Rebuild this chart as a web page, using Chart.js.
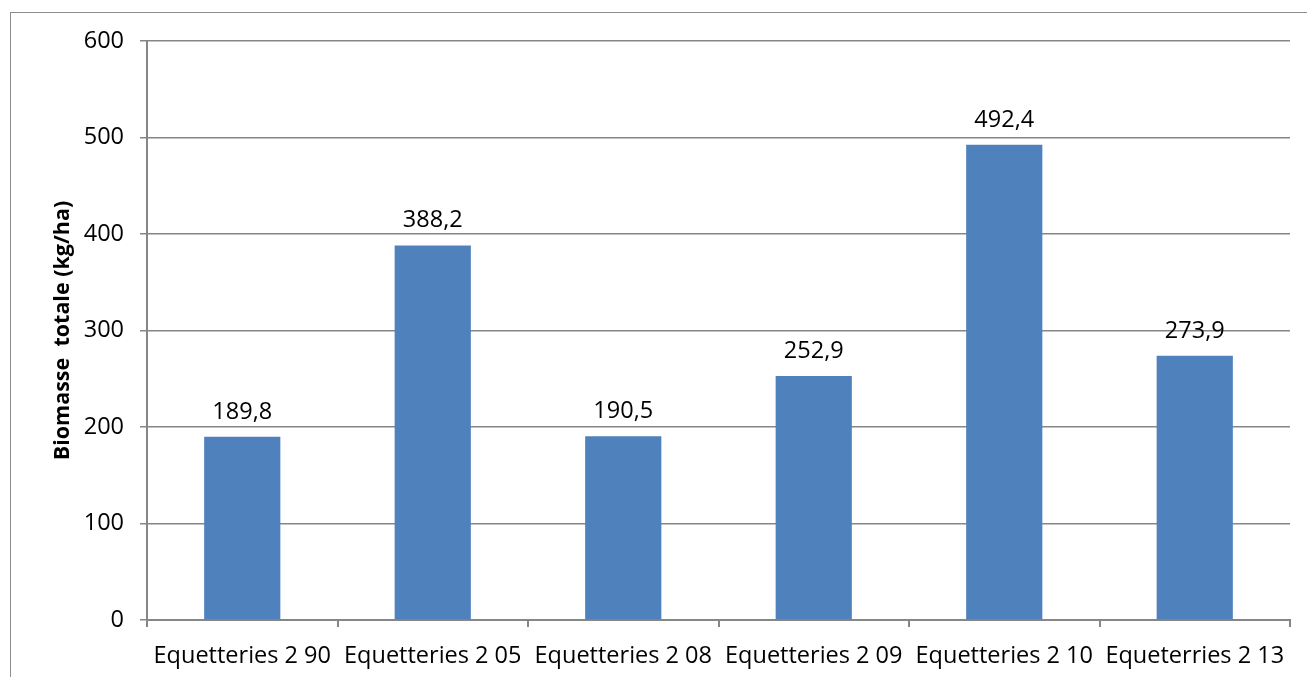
<!DOCTYPE html>
<html>
<head>
<meta charset="utf-8">
<script src="https://cdn.jsdelivr.net/npm/chart.js@4.4.1/dist/chart.umd.min.js"></script>
<style>
  html, body { margin: 0; padding: 0; background: #fff; overflow: hidden; }
  #wrap { position: relative; width: 1307px; height: 677px; }
  #frame { position: absolute; left: 10px; top: 12px; width: 1400px; height: 800px;
           border: 1px solid #8c8c8c; box-sizing: border-box; }
  canvas { position: absolute; left: 0; top: 0; }
</style>
</head>
<body>
<div id="wrap">
  <div id="frame"></div>
  <canvas id="c" width="1307" height="677"></canvas>
</div>
<script>
const categories = ["Equetteries 2 90", "Equetteries 2 05", "Equetteries 2 08",
                    "Equetteries 2 09", "Equetteries 2 10", "Equeterries 2 13"];
const biomasse = [189.8, 388.2, 190.5, 252.9, 492.4, 273.9];
const yTicks = [0, 100, 200, 300, 400, 500, 600];

const FONT = "'Open Sans', 'Liberation Sans', sans-serif";
const SIZE = 23.5;
const GRID = "#868686";

// value labels above each bar, French decimal comma
const valueLabels = {
  id: "valueLabels",
  afterDatasetsDraw(chart) {
    const ctx = chart.ctx;
    const meta = chart.getDatasetMeta(0);
    ctx.save();
    ctx.font = SIZE + "px " + FONT;
    ctx.fillStyle = "#000";
    ctx.textAlign = "center";
    ctx.textBaseline = "alphabetic";
    meta.data.forEach((bar, i) => {
      const txt = biomasse[i].toFixed(1).replace(".", ",");
      ctx.fillText(txt, bar.x, bar.y - 18);
    });
    ctx.restore();
  }
};

new Chart(document.getElementById("c"), {
  type: "bar",
  data: {
    labels: categories,
    datasets: [{
      data: biomasse,
      backgroundColor: "#4F81BD",
      borderWidth: 0,
      barPercentage: 0.4,
      categoryPercentage: 1.0
    }]
  },
  options: {
    responsive: false,
    animation: false,
    devicePixelRatio: 1,
    layout: { padding: { left: 50, top: 41, right: 17, bottom: 0 } },
    plugins: { legend: { display: false }, tooltip: { enabled: false } },
    scales: {
      x: {
        grid: { display: true, drawOnChartArea: false, drawTicks: true, tickLength: 7,
                color: GRID, lineWidth: 2, offset: true },
        border: { display: true, color: GRID, width: 2 },
        ticks: { color: "#000", font: { family: FONT, size: SIZE }, padding: 15,
                 maxRotation: 0, autoSkip: false },
        afterFit(s) { s.height = 57; }
      },
      y: {
        min: 0, max: 600,
        afterBuildTicks(s) { s.ticks = yTicks.map(v => ({ value: v })); },
        grid: { color: GRID, lineWidth: 1.5, drawTicks: true, tickLength: 7 },
        border: { display: true, color: GRID, width: 2 },
        ticks: { color: "#000", font: { family: FONT, size: SIZE }, padding: 16 },
        title: { display: true, text: "Biomasse  totale (kg/ha)", color: "#000",
                 font: { family: FONT, size: 21.5, weight: "bold" }, padding: 0 },
        afterFit(s) { s.width = 97; }
      }
    }
  },
  plugins: [valueLabels]
});
</script>
</body>
</html>
